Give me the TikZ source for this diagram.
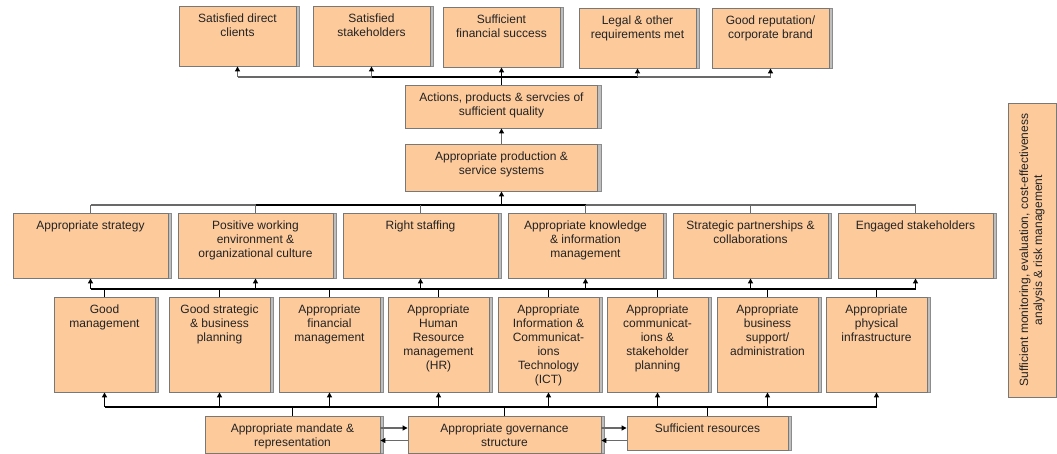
\documentclass[tikz,border=0pt]{standalone}
\usepackage{fontspec}
\setmainfont{Liberation Sans}
\usetikzlibrary{arrows.meta,shadows}

\definecolor{peach}{RGB}{253,202,156}
\definecolor{boxline}{RGB}{120,120,120}
\definecolor{shadowfill}{RGB}{190,190,190}
\definecolor{shadowline}{RGB}{140,140,140}
\definecolor{linkgray}{RGB}{105,105,105}
\definecolor{ink}{RGB}{35,35,35}

\tikzset{
  box/.style 2 args={draw=boxline, line width=0.9pt, fill=peach, inner sep=0pt,
    minimum width=#1, minimum height=#2,
    general shadow={fill=shadowfill, draw=shadowline, shadow xshift=3.5pt}},
  txt/.style={anchor=north, align=center, text=ink, inner xsep=0pt, inner ysep=8.5pt},
  sidebox/.style={draw=boxline, line width=0.9pt, fill=peach, inner sep=0pt, text=ink,
    minimum width=294, minimum height=48, rotate=90, align=center},
  link/.style={draw=linkgray, line width=1.1pt},
  main/.style={draw=black, line width=1.6pt},
  tip/.style={-{Triangle[length=5pt,width=5pt,color=black]}}
}

\begin{document}
\begin{tikzpicture}[x=1pt, y=-1pt, font=\fontsize{12}{14}\selectfont]
    \useasboundingbox (0,0) rectangle (1057,454);

    % outcomes
    \node[box={117}{60}, label={[txt, name=clients-t]north:Satisfied direct\\clients}] (clients) at (237.5,36) {};
    \node[box={117}{60}, label={[txt, name=stakeh-t]north:Satisfied\\stakeholders}] (stakeh) at (371.5,36) {};
    \node[box={117}{60}, label={[txt, name=finance-t]north:Sufficient\\financial success}] (finance) at (501.5,37) {};
    \node[box={117}{60}, label={[txt, name=legal-t]north:Legal \& other\\requirements met}] (legal) at (637.5,38) {};
    \node[box={117}{60}, label={[txt, name=brand-t]north:Good reputation/\\corporate brand}] (brand) at (770.5,38) {};

    \node[box={192}{43}, label={[txt, name=actions-t]north:Actions, products \& servcies of\\sufficient quality}] (actions) at (501.5,106.5) {};
    \node[box={192}{47}, label={[txt, name=prod-t]north:Appropriate production \&\\service systems}] (prod) at (501.5,167.5) {};

    % capabilities
    \node[box={155}{65}, label={[txt, name=strategy-t]north:Appropriate strategy}] (strategy) at (90.5,245.5) {};
    \node[box={155}{65}, label={[txt, name=culture-t]north:Positive working\\environment \&\\organizational culture}] (culture) at (255.5,245.5) {};
    \node[box={155}{65}, label={[txt, name=staffing-t]north:Right staffing}] (staffing) at (420.5,245.5) {};
    \node[box={155}{65}, label={[txt, name=knowledge-t]north:Appropriate knowledge\\\& information\\management}] (knowledge) at (585.5,245.5) {};
    \node[box={155}{65}, label={[txt, name=partners-t]north:Strategic partnerships \&\\collaborations}] (partners) at (750.5,245.5) {};
    \node[box={155}{65}, label={[txt, name=engaged-t]north:Engaged stakeholders}] (engaged) at (915.5,245.5) {};

    % enablers
    \node[box={101}{95}, label={[txt, name=mgmt-t]north:Good\\management}] (mgmt) at (104.5,344.5) {};
    \node[box={101}{95}, label={[txt, name=planning-t]north:Good strategic\\\& business\\planning}] (planning) at (219.5,344.5) {};
    \node[box={101}{95}, label={[txt, name=finmgmt-t]north:Appropriate\\financial\\management}] (finmgmt) at (329.5,344.5) {};
    \node[box={101}{95}, label={[txt, name=hr-t]north:Appropriate\\Human\\Resource\\management\\(HR)}] (hr) at (438.5,344.5) {};
    \node[box={101}{95}, label={[txt, name=ict-t]north:Appropriate\\Information \&\\Communicat-\\ions\\Technology\\(ICT)}] (ict) at (548.5,344.5) {};
    \node[box={101}{95}, label={[txt, name=comms-t]north:Appropriate\\communicat-\\ions \&\\stakeholder\\planning}] (comms) at (657.5,344.5) {};
    \node[box={101}{95}, label={[txt, name=admin-t]north:Appropriate\\business\\support/\\administration}] (admin) at (767.5,344.5) {};
    \node[box={101}{95}, label={[txt, name=infra-t]north:Appropriate\\physical\\infrastructure}] (infra) at (876.5,344.5) {};

    % foundations
    \node[box={175}{37}, label={[txt, name=mandate-t]north:Appropriate mandate \&\\representation}] (mandate) at (292.5,434.5) {};
    \node[box={193}{37}, label={[txt, name=govern-t]north:Appropriate governance\\structure}] (govern) at (504.5,434.5) {};
    \node[box={161}{34}, label={[txt, name=resources-t]north:Sufficient resources}] (resources) at (707.5,433) {};

    \node[sidebox] (monitor) at (1032,250) {Sufficient monitoring, evaluation, cost-effectiveness\\analysis \& risk management};

    \coordinate (topbus) at (0,77);
    \coordinate (midbus) at (0,205);
    \coordinate (lowbus) at (0,289);
    \coordinate (basebus) at (0,407);

    % top level
    \draw[link] (clients.south |- topbus) -- (brand.south |- topbus);
    \draw[main] (stakeh.south |- topbus) -- (legal.south |- topbus);
    \draw[main] (actions.north) -- (actions.north |- topbus);
    \draw[link, tip] (clients.south |- topbus) -- (clients.south);
    \draw[link, tip] (stakeh.south |- topbus) -- (stakeh.south);
    \draw[main, tip] (finance.south |- topbus) -- (finance.south);
    \draw[link, tip] (legal.south |- topbus) -- (legal.south);
    \draw[link, tip] (brand.south |- topbus) -- (brand.south);
    \draw[link, tip] (prod.north) -- (actions.south);

    % capabilities to production
    \draw[link] (strategy.north |- midbus) -- (engaged.north |- midbus);
    \draw[main] (culture.north |- midbus) -- (knowledge.north |- midbus);
    \draw[link] (strategy.north) -- (strategy.north |- midbus);
    \draw[link] (culture.north) -- (culture.north |- midbus);
    \draw[link] (staffing.north) -- (staffing.north |- midbus);
    \draw[link] (knowledge.north) -- (knowledge.north |- midbus);
    \draw[link] (partners.north) -- (partners.north |- midbus);
    \draw[link] (engaged.north) -- (engaged.north |- midbus);
    \draw[main, tip] (prod.south |- midbus) -- (prod.south);

    % enablers to capabilities
    \draw[main] (strategy.south |- lowbus) -- (engaged.south |- lowbus);
    \draw[main] (mgmt.north) -- (mgmt.north |- lowbus);
    \draw[main] (planning.north) -- (planning.north |- lowbus);
    \draw[main] (finmgmt.north) -- (finmgmt.north |- lowbus);
    \draw[main] (hr.north) -- (hr.north |- lowbus);
    \draw[main] (ict.north) -- (ict.north |- lowbus);
    \draw[main] (comms.north) -- (comms.north |- lowbus);
    \draw[main] (admin.north) -- (admin.north |- lowbus);
    \draw[main] (infra.north) -- (infra.north |- lowbus);
    \draw[main, tip] (strategy.south |- lowbus) -- (strategy.south);
    \draw[main, tip] (culture.south |- lowbus) -- (culture.south);
    \draw[main, tip] (staffing.south |- lowbus) -- (staffing.south);
    \draw[main, tip] (knowledge.south |- lowbus) -- (knowledge.south);
    \draw[main, tip] (partners.south |- lowbus) -- (partners.south);
    \draw[main, tip] (engaged.south |- lowbus) -- (engaged.south);

    % foundations to enablers
    \draw[main] (mgmt.south |- basebus) -- (infra.south |- basebus);
    \draw[main] (mandate.north) -- (mandate.north |- basebus);
    \draw[main] (govern.north) -- (govern.north |- basebus);
    \draw[main] (resources.north) -- (resources.north |- basebus);
    \draw[main, tip] (mgmt.south |- basebus) -- (mgmt.south);
    \draw[main, tip] (planning.south |- basebus) -- (planning.south);
    \draw[main, tip] (finmgmt.south |- basebus) -- (finmgmt.south);
    \draw[main, tip] (hr.south |- basebus) -- (hr.south);
    \draw[main, tip] (ict.south |- basebus) -- (ict.south);
    \draw[main, tip] (comms.south |- basebus) -- (comms.south);
    \draw[main, tip] (admin.south |- basebus) -- (admin.south);
    \draw[main, tip] (infra.south |- basebus) -- (infra.south);

    % foundations between each other
    \draw[link, tip] ([yshift=6.5pt]mandate.east) -- ([yshift=6.5pt]mandate.east -| govern.west);
    \draw[link, tip] ([yshift=-6pt]govern.west) -- ([yshift=-6pt]govern.west -| mandate.east);
    \draw[link, tip] ([yshift=6.5pt]govern.east) -- ([yshift=6.5pt]govern.east -| resources.west);
    \draw[link, tip] ([yshift=-6pt]govern.east -| resources.west) -- ([yshift=-6pt]govern.east);
\end{tikzpicture}
\end{document}
